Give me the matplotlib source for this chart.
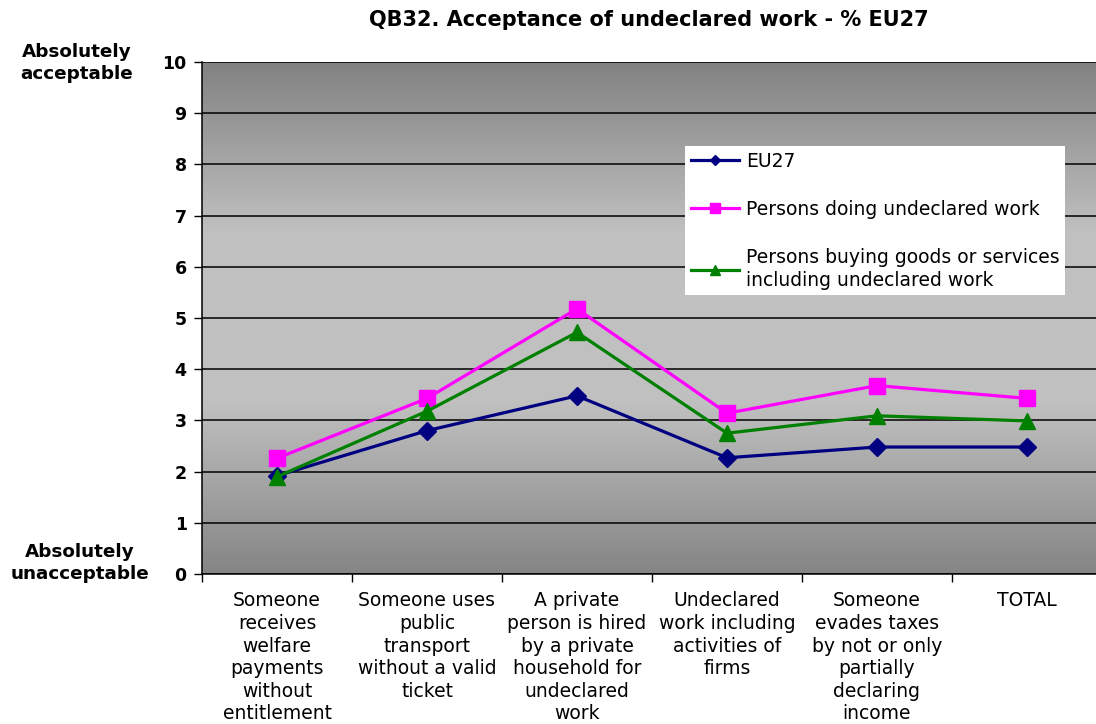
import numpy as np
import matplotlib.pyplot as plt
from matplotlib.colors import LinearSegmentedColormap

plt.rcParams['font.family'] = ['DejaVu Sans']

categories = [
    "Someone\nreceives\nwelfare\npayments\nwithout\nentitlement",
    "Someone uses\npublic\ntransport\nwithout a valid\nticket",
    "A private\nperson is hired\nby a private\nhousehold for\nundeclared\nwork",
    "Undeclared\nwork including\nactivities of\nfirms",
    "Someone\nevades taxes\nby not or only\npartially\ndeclaring\nincome",
    "TOTAL",
]
eu27 = [1.92, 2.80, 3.48, 2.27, 2.48, 2.48]
doing = [2.26, 3.43, 5.18, 3.14, 3.68, 3.43]
buying = [1.90, 3.18, 4.72, 2.75, 3.09, 2.99]

fig = plt.figure(figsize=(10.96, 7.24), dpi=100)
ax = fig.add_axes([202 / 1096, 150 / 724, 900 / 1096, 512 / 724])

x = np.arange(len(categories))
ax.set_xlim(-0.5, len(categories) - 0.5)
ax.set_ylim(0, 10)

# gray gradient background: dark at top and bottom, light in the middle
cmap = LinearSegmentedColormap.from_list("bg", ["#828282", "#c0c0c0", "#c0c0c0", "#858585"])
grad = np.linspace(0, 1, 256).reshape(-1, 1)
ax.imshow(grad, cmap=cmap, aspect="auto", extent=[0, 1, 0, 1], transform=ax.transAxes, zorder=0)

ax.yaxis.grid(True, color="black", linewidth=1.1, zorder=1)
ax.set_axisbelow(True)

ax.plot(x, eu27, color="#000080", marker="D", markersize=9, linewidth=2.3, label="EU27", zorder=3)
ax.plot(x, doing, color="#ff00ff", marker="s", markersize=11, linewidth=2.3,
        label="Persons doing undeclared work", zorder=3)
ax.plot(x, buying, color="#008000", marker="^", markersize=11, linewidth=2.3,
        label="Persons buying goods or services\nincluding undeclared work", zorder=4)

for s in ["top", "right"]:
    ax.spines[s].set_visible(False)
ax.spines["left"].set_linewidth(1.1)
ax.spines["bottom"].set_linewidth(1.1)

ax.set_yticks(range(0, 11))
ax.tick_params(axis="y", length=6, width=1, labelsize=12.5, pad=5)
for lbl in ax.get_yticklabels():
    lbl.set_fontweight("bold")

ax.set_xticks(np.arange(-0.5, len(categories), 1.0))
ax.set_xticklabels([])
ax.tick_params(axis="x", length=6, width=1)
for i, c in enumerate(categories):
    ax.text(i, -0.34, c, ha="center", va="top", fontsize=13.5, linespacing=1.24)

fig.text(77 / 1096, 1 - 63 / 724, "Absolutely\nacceptable", ha="center", va="center",
         fontsize=13.2, fontweight="bold", linespacing=1.3)
fig.text(80 / 1096, 1 - 563 / 724, "Absolutely\nunacceptable", ha="center", va="center",
         fontsize=13.2, fontweight="bold", linespacing=1.3)
fig.text(649 / 1096, 1 - 20 / 724, "QB32. Acceptance of undeclared work - % EU27",
         ha="center", va="center", fontsize=15, fontweight="bold")

leg = ax.legend(loc="upper left", bbox_to_anchor=(685 / 1096, 1 - 146 / 724),
                bbox_transform=fig.transFigure, fontsize=13.5, frameon=True, fancybox=False,
                framealpha=1, edgecolor="white", borderpad=0.3, labelspacing=1.55,
                handlelength=2.6, handletextpad=0.35, borderaxespad=0, markerscale=0.6)
leg.get_frame().set_linewidth(0)
for t in leg.get_texts():
    t.set_linespacing(1.25)

fig.savefig("out.png", dpi=100)
